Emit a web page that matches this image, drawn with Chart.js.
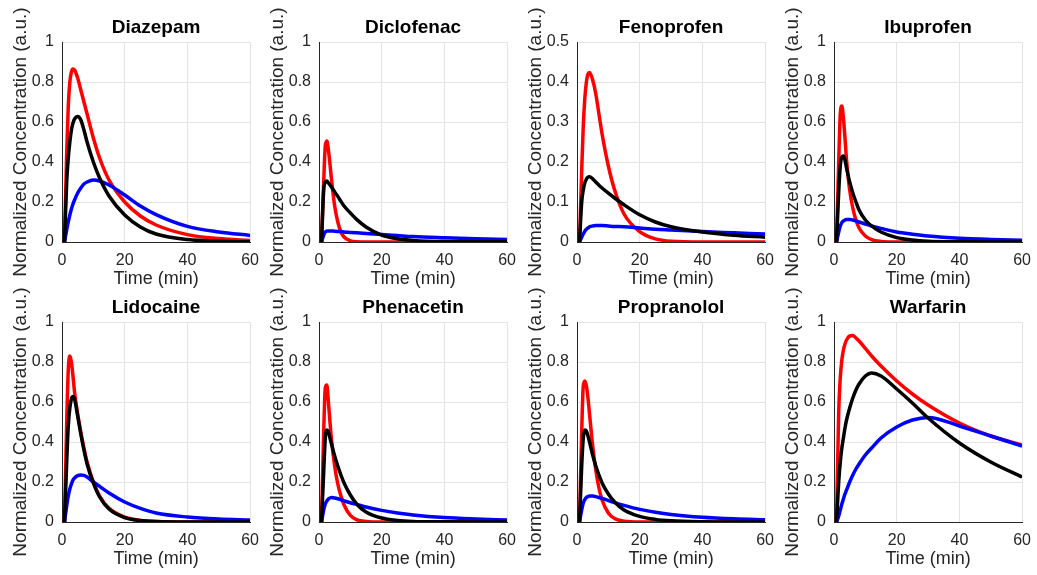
<!DOCTYPE html>
<html>
<head>
<meta charset="utf-8">
<script src="https://cdn.jsdelivr.net/npm/chart.js@4.4.1/dist/chart.umd.min.js"></script>
<style>
  body { margin: 0; background: #fff; width: 1037px; height: 575px; position: relative; overflow: hidden; }
  canvas { position: absolute; }
</style>
</head>
<body>
<script>
// sampling times (min) shared by every curve
const time = [0.8, 1.5, 2, 2.5, 3, 3.5, 4, 5, 6, 7, 8, 10, 12, 15, 20, 25, 30, 40, 50, 60];

const drugs = ['Diazepam', 'Diclofenac', 'Fenoprofen', 'Ibuprofen', 'Lidocaine', 'Phenacetin', 'Propranolol', 'Warfarin'];
const xTicks = [0, 20, 40, 60];
const yTicks = [0, 0.2, 0.4, 0.6, 0.8, 1];
const yTicksFeno = [0, 0.1, 0.2, 0.3, 0.4, 0.5];

const diazepamRed   = [0, 0.45, 0.68, 0.8, 0.85, 0.865, 0.86, 0.82, 0.76, 0.7, 0.64, 0.52, 0.42, 0.31, 0.2, 0.13, 0.085, 0.037, 0.017, 0.008];
const diazepamBlack = [0, 0.3, 0.42, 0.5, 0.56, 0.595, 0.615, 0.627, 0.61, 0.56, 0.5, 0.4, 0.32, 0.23, 0.135, 0.075, 0.04, 0.012, 0.004, 0.001];
const diazepamBlue  = [0, 0.06, 0.1, 0.135, 0.165, 0.19, 0.21, 0.245, 0.27, 0.29, 0.3, 0.31, 0.305, 0.285, 0.235, 0.18, 0.137, 0.078, 0.05, 0.033];

const diclofenacRed   = [0, 0.3, 0.48, 0.505, 0.46, 0.39, 0.31, 0.18, 0.1, 0.05, 0.025, 0.006, 0.001, 0, 0, 0, 0, 0, 0, 0];
const diclofenacBlack = [0, 0.26, 0.3, 0.305, 0.295, 0.285, 0.275, 0.25, 0.228, 0.203, 0.18, 0.145, 0.113, 0.075, 0.034, 0.016, 0.008, 0.002, 0.001, 0.001];
const diclofenacBlue  = [0, 0.035, 0.05, 0.054, 0.055, 0.055, 0.055, 0.054, 0.053, 0.052, 0.05, 0.048, 0.046, 0.043, 0.037, 0.032, 0.027, 0.021, 0.016, 0.012];

const fenoprofenRed   = [0, 0.18, 0.29, 0.36, 0.4, 0.42, 0.424, 0.405, 0.37, 0.32, 0.27, 0.19, 0.13, 0.07, 0.026, 0.008, 0.002, 0, 0, 0];
const fenoprofenBlack = [0, 0.1, 0.13, 0.148, 0.157, 0.162, 0.163, 0.158, 0.15, 0.142, 0.135, 0.122, 0.11, 0.093, 0.068, 0.05, 0.038, 0.025, 0.017, 0.012];
const fenoprofenBlue  = [0, 0.012, 0.02, 0.027, 0.032, 0.035, 0.038, 0.04, 0.041, 0.041, 0.041, 0.04, 0.039, 0.038, 0.035, 0.032, 0.03, 0.026, 0.023, 0.02];

const ibuprofenRed   = [0, 0.4, 0.64, 0.68, 0.62, 0.52, 0.41, 0.26, 0.17, 0.11, 0.07, 0.03, 0.012, 0.003, 0, 0, 0, 0, 0, 0];
const ibuprofenBlack = [0, 0.25, 0.38, 0.425, 0.43, 0.41, 0.37, 0.3, 0.245, 0.2, 0.16, 0.11, 0.08, 0.05, 0.022, 0.01, 0.004, 0.001, 0, 0];
const ibuprofenBlue  = [0, 0.05, 0.08, 0.097, 0.105, 0.11, 0.113, 0.113, 0.11, 0.105, 0.1, 0.09, 0.08, 0.068, 0.05, 0.039, 0.03, 0.019, 0.013, 0.009];

const lidocaineRed   = [0, 0.5, 0.76, 0.83, 0.8, 0.73, 0.65, 0.54, 0.45, 0.37, 0.3, 0.2, 0.13, 0.068, 0.024, 0.008, 0.003, 0, 0, 0];
const lidocaineBlack = [0, 0.3, 0.48, 0.57, 0.615, 0.627, 0.615, 0.53, 0.44, 0.36, 0.29, 0.195, 0.125, 0.065, 0.022, 0.007, 0.002, 0, 0, 0];
const lidocaineBlue  = [0, 0.08, 0.13, 0.165, 0.19, 0.21, 0.22, 0.232, 0.235, 0.233, 0.225, 0.2, 0.178, 0.145, 0.1, 0.068, 0.045, 0.025, 0.015, 0.01];

const phenacetinRed   = [0, 0.45, 0.67, 0.685, 0.6, 0.5, 0.41, 0.28, 0.19, 0.13, 0.085, 0.033, 0.012, 0.003, 0, 0, 0, 0, 0, 0];
const phenacetinBlack = [0, 0.25, 0.42, 0.46, 0.45, 0.42, 0.39, 0.33, 0.28, 0.235, 0.195, 0.135, 0.09, 0.05, 0.02, 0.008, 0.003, 0.001, 0, 0];
const phenacetinBlue  = [0, 0.06, 0.09, 0.105, 0.115, 0.12, 0.122, 0.12, 0.116, 0.111, 0.106, 0.096, 0.088, 0.075, 0.058, 0.045, 0.035, 0.022, 0.015, 0.01];

const propranololRed   = [0, 0.45, 0.68, 0.705, 0.68, 0.62, 0.54, 0.38, 0.26, 0.17, 0.11, 0.045, 0.017, 0.004, 0, 0, 0, 0, 0, 0];
const propranololBlack = [0, 0.28, 0.42, 0.46, 0.455, 0.43, 0.4, 0.335, 0.28, 0.235, 0.195, 0.14, 0.1, 0.06, 0.028, 0.013, 0.006, 0.001, 0, 0];
const propranololBlue  = [0, 0.06, 0.095, 0.112, 0.122, 0.127, 0.13, 0.13, 0.127, 0.122, 0.118, 0.107, 0.097, 0.083, 0.063, 0.049, 0.038, 0.024, 0.016, 0.011];

const warfarinRed   = [0, 0.55, 0.72, 0.81, 0.86, 0.89, 0.91, 0.93, 0.932, 0.92, 0.905, 0.868, 0.83, 0.78, 0.705, 0.64, 0.585, 0.495, 0.43, 0.385];
const warfarinBlack = [0, 0.2, 0.3, 0.37, 0.42, 0.47, 0.51, 0.57, 0.62, 0.66, 0.69, 0.73, 0.745, 0.73, 0.665, 0.595, 0.52, 0.395, 0.3, 0.225];
const warfarinBlue  = [0, 0.03, 0.06, 0.09, 0.115, 0.14, 0.16, 0.2, 0.235, 0.265, 0.29, 0.335, 0.37, 0.42, 0.475, 0.51, 0.523, 0.48, 0.43, 0.38];

const series = [
  [diazepamRed, diazepamBlack, diazepamBlue],
  [diclofenacRed, diclofenacBlack, diclofenacBlue],
  [fenoprofenRed, fenoprofenBlack, fenoprofenBlue],
  [ibuprofenRed, ibuprofenBlack, ibuprofenBlue],
  [lidocaineRed, lidocaineBlack, lidocaineBlue],
  [phenacetinRed, phenacetinBlack, phenacetinBlue],
  [propranololRed, propranololBlack, propranololBlue],
  [warfarinRed, warfarinBlack, warfarinBlue]
];

// layout of the 2x4 grid (pixels)
const plotLefts = [62, 319, 577, 834];
const plotW = 192;
const yAxisW = 53, xAxisH = 48, padRight = 14;
const rows = [
  { top: 0, plotTop: 42, plotBottom: 242 },
  { top: 283, plotTop: 322, plotBottom: 522 }
];

const FONT = "'Liberation Sans', Arial, Helvetica, sans-serif";
const AXIS = '#262626';
const GRID = '#e4e4e4';

// panel title centred over the plot area, like matlab does
const panelTitle = {
  id: 'panelTitle',
  afterDraw(chart, args, opts) {
    const { ctx, chartArea } = chart;
    ctx.save();
    ctx.font = 'bold 19px ' + FONT;
    ctx.fillStyle = '#000';
    ctx.textAlign = 'center';
    ctx.textBaseline = 'middle';
    ctx.fillText(opts.text, (chartArea.left + chartArea.right) / 2, chartArea.top - 14);
    ctx.restore();
  }
};

function toPoints(ys) {
  return ys.map((y, i) => ({ x: time[i], y: y }));
}

function makePanel(idx) {
  const r = rows[Math.floor(idx / 4)];
  const left = plotLefts[idx % 4] - yAxisW;
  const width = yAxisW + plotW + padRight;
  const height = r.plotBottom + xAxisH - r.top;

  const cv = document.createElement('canvas');
  cv.width = width; cv.height = height;
  cv.style.left = left + 'px'; cv.style.top = r.top + 'px';
  cv.style.width = width + 'px'; cv.style.height = height + 'px';
  document.body.appendChild(cv);

  const [red, black, blue] = series[idx];
  const yt = idx === 2 ? yTicksFeno : yTicks;
  const line = (data, color) => ({
    data: toPoints(data), borderColor: color, borderWidth: 3.5,
    pointRadius: 0, fill: false, cubicInterpolationMode: 'monotone'
  });

  new Chart(cv, {
    type: 'line',
    data: { datasets: [line(black, '#000000'), line(blue, '#0000ff'), line(red, '#ff0000')] },
    options: {
      responsive: false, animation: false,
      layout: { padding: { top: r.plotTop - r.top, right: padRight, left: 0, bottom: 0 } },
      plugins: {
        legend: { display: false }, tooltip: { enabled: false },
        title: { display: false },
        panelTitle: { text: drugs[idx] }
      },
      scales: {
        x: {
          type: 'linear', min: 0, max: 60,
          afterBuildTicks: s => { s.ticks = xTicks.map(v => ({ value: v })); },
          afterFit: s => { s.height = xAxisH; },
          grid: { color: GRID, drawTicks: false },
          border: { color: AXIS, width: 1 },
          ticks: { color: AXIS, padding: 9, maxRotation: 0, font: { family: FONT, size: 16 } },
          title: { display: true, text: 'Time (min)', color: AXIS, padding: 0, font: { family: FONT, size: 18 } }
        },
        y: {
          type: 'linear', min: 0, max: yt[yt.length - 1],
          afterBuildTicks: s => { s.ticks = yt.map(v => ({ value: v })); },
          afterFit: s => { s.width = yAxisW; },
          grid: { color: GRID, drawTicks: false },
          border: { color: AXIS, width: 1 },
          ticks: { color: AXIS, padding: 8, font: { family: FONT, size: 16 }, callback: v => String(v) },
          title: { display: true, text: 'Normalized Concentration (a.u.)', color: AXIS, padding: 0, font: { family: FONT, size: 19 } }
        }
      }
    },
    plugins: [panelTitle]
  });
}

drugs.forEach((d, i) => makePanel(i));
</script>
</body>
</html>
